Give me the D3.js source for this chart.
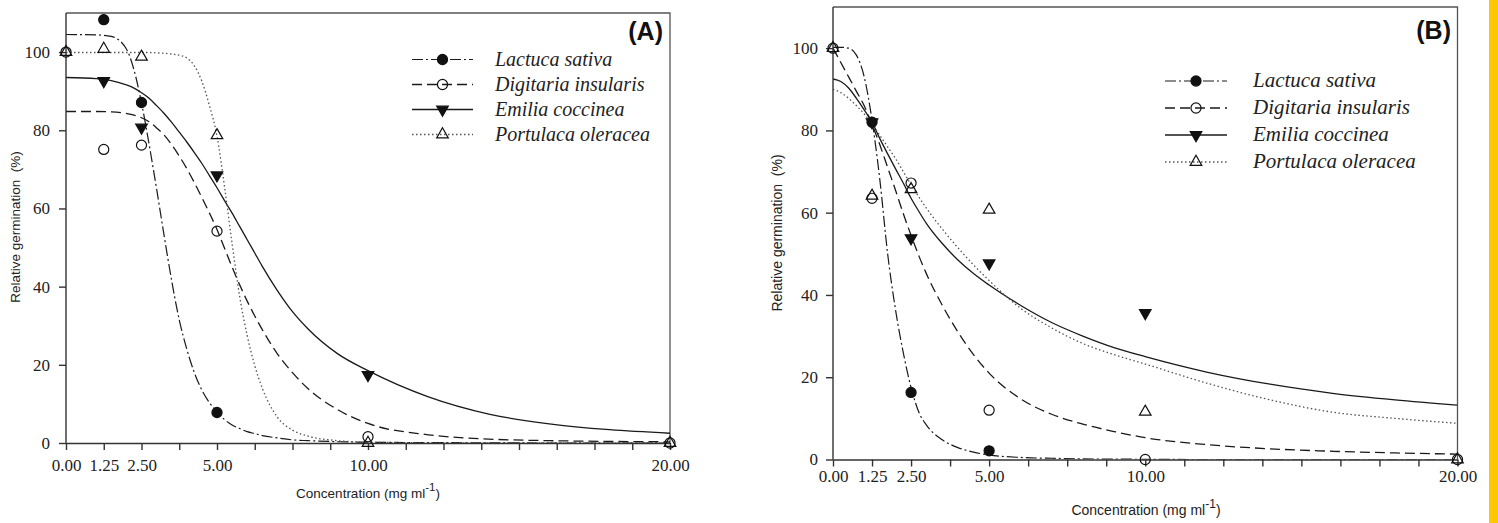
<!DOCTYPE html>
<html>
<head>
<meta charset="utf-8">
<script src="https://cdn.jsdelivr.net/npm/d3@7"></script>
<style>
body { margin: 0; background: #fff; }
svg { display: block; }
</style>
</head>
<body>
<svg id="chart"></svg>
<script>
var W = 1498;
var H = 523;

var concentrations = [0, 1.25, 2.5, 5, 10, 20];
var xTicks = d3.range(0, 20.01, 1.25);
var xTickLabels = [0, 1.25, 2.5, 5, 10, 20];
var yTicks = [0, 20, 40, 60, 80, 100];
var speciesNames = ['Lactuca sativa', 'Digitaria insularis', 'Emilia coccinea', 'Portulaca oleracea'];

// observed germination, panel A (null = no marker drawn)
var lactucaA = [null, 108.3, 87.1, 7.8, null, null];
var digitariaA = [100, 75.1, 76.2, 54.2, 1.6, 0];
var emiliaA = [null, 92.6, 80.7, 68.5, 17.4, null];
var portulacaA = [100, 100.8, 98.8, 78.7, 0, 0];

// observed germination, panel B
var lactucaB = [null, 82, 16.3, 2.1, null, null];
var digitariaB = [100, 63.5, 67.2, 12, 0, 0];
var emiliaB = [null, 82, 53.8, 47.7, 35.6, null];
var portulacaB = [100, 64.1, 65.7, 60.7, 11.6, 0];

// fitted curves
var curveXA = [0, 1, 1.5, 2, 2.25, 2.5, 2.75, 3, 3.25, 3.5, 3.75, 4, 4.25, 4.5, 4.75, 5, 5.25, 5.5, 5.75, 6, 6.25, 6.5, 7, 7.5, 8, 9, 10, 12, 14, 16, 18, 20];
var lactucaFitA = [104.5, 104.4, 104, 100.8, 95.5, 87, 76.5, 65, 53, 41.5, 31.5, 24, 18, 13.5, 10.3, 8, 6, 4.6, 3.7, 2.9, 2.4, 1.9, 1.3, 0.8, 0.6, 0.35, 0.2, 0.1, 0.05, 0, 0, 0];
var digitariaFitA = [84.8, 84.8, 84.7, 84.3, 83.9, 83.2, 82.2, 80.6, 78.8, 76.3, 73.4, 70.2, 66.6, 62.8, 58.8, 54.6, 49.8, 45, 40.5, 36.3, 32.5, 29, 22.8, 18, 14, 8.5, 5, 2.1, 1, 0.6, 0.4, 0.3];
var emiliaFitA = [93.5, 93.2, 92.7, 91.6, 90.8, 89.6, 88.2, 86.3, 84.3, 82, 79.5, 77, 74.3, 71.5, 68.4, 65.3, 62, 58.8, 55.4, 52, 48.6, 45.2, 39, 33.6, 29.3, 22.8, 18.5, 11.8, 7.4, 4.9, 3.4, 2.5];
var portulacaFitA = [99.9, 99.9, 99.9, 99.9, 99.9, 99.9, 99.9, 99.8, 99.7, 99.5, 99.2, 98.5, 96.5, 92.5, 86.3, 78.5, 65.5, 51, 37.5, 27.5, 19.8, 14, 6.6, 3.3, 1.8, 0.6, 0.2, 0.05, 0, 0, 0, 0];

var curveXB = [0, 0.25, 0.5, 0.75, 1, 1.25, 1.5, 1.75, 2, 2.25, 2.5, 2.75, 3, 3.5, 4, 4.5, 5, 6, 7, 8, 9, 10, 12, 14, 16, 18, 20];
var lactucaFitB = [100.2, 100.2, 100, 98.3, 93, 82.5, 68, 50, 36.5, 26, 17.5, 11.5, 8.3, 4.8, 2.9, 1.8, 1.1, 0.5, 0.3, 0.15, 0.1, 0.05, 0, 0, 0, 0, 0];
var digitariaFitB = [100, 96.5, 93, 89.5, 86, 81.5, 76.5, 71, 65.5, 59.8, 54.5, 49.5, 45, 37.5, 31, 25.5, 21, 14.8, 11, 8.6, 6.8, 5.3, 3.6, 2.6, 2, 1.6, 1.3];
var emiliaFitB = [92.5, 91.9, 90.3, 87.8, 85, 82, 78, 74.3, 70.7, 67.2, 63.5, 60.3, 57.3, 52.5, 48.5, 45.2, 42.4, 37.5, 33.3, 30, 27.2, 25, 21.2, 18.3, 16.1, 14.5, 13.2];
var portulacaFitB = [90, 89.2, 87.8, 86, 84, 81.5, 78.8, 76, 73.2, 70, 66.8, 63.8, 61, 56, 51.5, 47.3, 43.5, 36.8, 32, 28.2, 25.5, 23.2, 18.5, 14.5, 11.5, 10, 8.8];

var seriesStyle = [
  {dash: '11,3,2,3', color: '#1a1a1a', width: 1.2, marker: 'circle', filled: true},
  {dash: '10,5', color: '#1a1a1a', width: 1.3, marker: 'circle', filled: false},
  {dash: null, color: '#1a1a1a', width: 1.3, marker: 'down', filled: true},
  {dash: '1.5,2.5', color: '#555', width: 1.3, marker: 'up', filled: false}
];

var svg = d3.select('#chart').attr('width', W).attr('height', H);
svg.append('rect').attr('width', W).attr('height', H).attr('fill', '#fff');

function markerPath(type) {
  if (type === 'circle') {
    return d3.symbol().type(d3.symbolCircle).size(80)();
  }
  return d3.symbol().type(d3.symbolTriangle).size(58)();
}

function drawMarker(g, type, filled, cx, cy) {
  g.append('path')
    .attr('d', markerPath(type))
    .attr('transform', 'translate(' + cx + ',' + cy + ')' + (type === 'down' ? ' rotate(180)' : ''))
    .attr('fill', filled ? '#111' : 'none')
    .attr('stroke', '#111')
    .attr('stroke-width', 1.2);
}

function drawPanel(p) {
  var x = d3.scaleLinear().domain([0, 20]).range([p.left, p.right]);
  var y = d3.scaleLinear().domain([0, 110]).range([p.bottom, p.top]);
  var g = svg.append('g');

  // frame: top and right
  g.append('path')
    .attr('d', 'M' + x(0) + ',' + y(110) + 'H' + x(20) + 'V' + y(0))
    .attr('fill', 'none')
    .attr('stroke', '#555')
    .attr('stroke-width', 1.3);

  // curves
  var clipId = 'clip' + p.label;
  g.append('clipPath').attr('id', clipId)
    .append('rect')
    .attr('x', x(0)).attr('y', y(110))
    .attr('width', x(20) - x(0)).attr('height', y(0) - y(110));

  var line = d3.line()
    .x(function (d) { return x(d[0]); })
    .y(function (d) { return y(d[1]); })
    .curve(d3.curveMonotoneX);

  p.fits.forEach(function (vals, i) {
    var st = seriesStyle[i];
    g.append('path')
      .datum(p.curveX.map(function (c, j) { return [c, vals[j]]; }))
      .attr('d', line)
      .attr('clip-path', 'url(#' + clipId + ')')
      .attr('fill', 'none')
      .attr('stroke', st.color)
      .attr('stroke-width', st.width)
      .attr('stroke-dasharray', st.dash);
  });

  // axes
  var xAxis = d3.axisBottom(x)
    .tickValues(xTicks)
    .tickSize(7)
    .tickSizeOuter(0)
    .tickPadding(p.xPad)
    .tickFormat(function (d) {
      return xTickLabels.indexOf(d) >= 0 ? d.toFixed(2) : '';
    });
  var gx = g.append('g')
    .attr('transform', 'translate(0,' + y(0) + ')')
    .call(xAxis);
  gx.selectAll('text').attr('font-family', '"Liberation Serif", "Times New Roman", serif')
    .attr('font-size', 17).attr('fill', '#222');

  var yAxis = d3.axisLeft(y)
    .tickValues(yTicks)
    .tickSize(7)
    .tickSizeOuter(0)
    .tickPadding(p.yPad);
  var gy = g.append('g')
    .attr('transform', 'translate(' + x(0) + ',0)')
    .call(yAxis);
  gy.select('.domain').attr('d', 'M0,' + y(0) + 'V' + y(110));
  gy.selectAll('text').attr('font-family', '"Liberation Serif", "Times New Roman", serif')
    .attr('font-size', 17).attr('fill', '#222');

  g.selectAll('.domain, .tick line').attr('stroke', '#333').attr('stroke-width', 1.4);

  // data markers
  p.points.forEach(function (vals, i) {
    var st = seriesStyle[i];
    vals.forEach(function (v, j) {
      if (v === null) return;
      drawMarker(g, st.marker, st.filled, x(concentrations[j]), y(v));
    });
  });

  // axis titles
  var xt = g.append('text')
    .attr('x', p.xTitleX).attr('y', p.xTitleY)
    .attr('text-anchor', 'middle')
    .attr('font-family', '"Liberation Sans", Arial, sans-serif')
    .attr('font-size', p.titleSize)
    .attr('fill', '#222');
  xt.append('tspan').text('Concentration (mg ml');
  xt.append('tspan').attr('dy', -7).attr('font-size', p.titleSize - 2).text('-1');
  xt.append('tspan').attr('dy', 7).text(')');

  g.append('text')
    .attr('transform', 'translate(' + p.yTitleX + ',' + p.yTitleY + ') rotate(-90)')
    .attr('text-anchor', 'middle')
    .attr('font-family', '"Liberation Sans", Arial, sans-serif')
    .attr('font-size', p.titleSize)
    .attr('fill', '#222')
    .style('white-space', 'pre')
    .text('Relative germination  (%)');

  // panel label
  g.append('text')
    .attr('x', p.labelX).attr('y', p.labelY)
    .attr('text-anchor', 'end')
    .attr('font-family', '"Liberation Sans", Arial, sans-serif')
    .attr('font-weight', 'bold')
    .attr('font-size', 25)
    .attr('fill', '#111')
    .text('(' + p.label + ')');

  // legend
  speciesNames.forEach(function (name, i) {
    var st = seriesStyle[i];
    var ly = p.legY + i * p.legStep;
    g.append('line')
      .attr('x1', p.legX1).attr('x2', p.legX2)
      .attr('y1', ly).attr('y2', ly)
      .attr('stroke', st.color)
      .attr('stroke-width', st.width)
      .attr('stroke-dasharray', st.dash);
    drawMarker(g, st.marker, st.filled, (p.legX1 + p.legX2) / 2, ly);
    g.append('text')
      .attr('x', p.legTextX).attr('y', ly + 6)
      .attr('font-family', '"Liberation Serif", "Times New Roman", serif')
      .attr('font-style', 'italic')
      .attr('font-size', p.legSize)
      .attr('fill', '#222')
      .text(name);
  });
}

drawPanel({
  label: 'A',
  left: 66, right: 670, top: 13, bottom: 443,
  xPad: 9, yPad: 9,
  curveX: curveXA,
  fits: [lactucaFitA, digitariaFitA, emiliaFitA, portulacaFitA],
  points: [lactucaA, digitariaA, emiliaA, portulacaA],
  xTitleX: 368, xTitleY: 498,
  yTitleX: 20, yTitleY: 227,
  titleSize: 13.5,
  labelX: 663, labelY: 40,
  legX1: 412, legX2: 473, legTextX: 495, legY: 59.5, legStep: 25, legSize: 20
});

drawPanel({
  label: 'B',
  left: 833, right: 1457.5, top: 7, bottom: 459.5,
  xPad: 3, yPad: 8,
  curveX: curveXB,
  fits: [lactucaFitB, digitariaFitB, emiliaFitB, portulacaFitB],
  points: [lactucaB, digitariaB, emiliaB, portulacaB],
  xTitleX: 1146, xTitleY: 515,
  yTitleX: 782, yTitleY: 233,
  titleSize: 14,
  labelX: 1451, labelY: 39,
  legX1: 1165, legX2: 1227, legTextX: 1253, legY: 81, legStep: 27, legSize: 21
});

// yellow strip at the right edge
svg.append('rect')
  .attr('x', 1489).attr('y', 0)
  .attr('width', 9).attr('height', H)
  .attr('fill', '#ffc700');
</script>
</body>
</html>
